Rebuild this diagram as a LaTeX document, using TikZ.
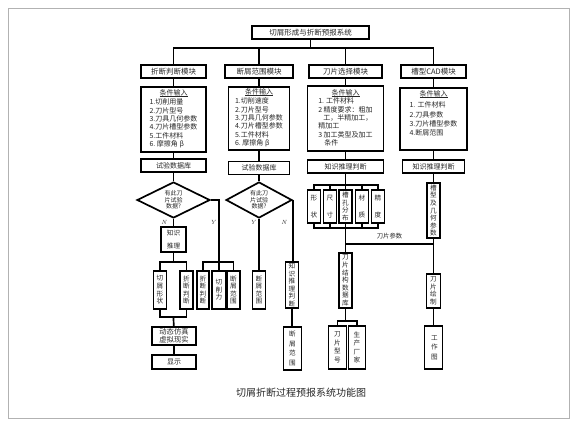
\documentclass[tikz,border=0pt]{standalone}
\usepackage{fontspec}
\newfontfamily\cjk{Noto Sans CJK SC}
\usetikzlibrary{shapes.geometric}

\newcommand{\condhead}{\multicolumn{1}{@{}c@{}}{\setbox0\hbox{条件输入}\rlap{\rule[-1.3pt]{\wd0}{0.6pt}}\box0}}

\begin{document}
\begin{tikzpicture}[x=1pt, y=-1pt,
    conn/.style={line width=1.7pt},
    box/.style={draw, line width=1.7pt, inner sep=0pt, text=black!85, font=\cjk\fontsize{7.5}{9}\selectfont},
    cond/.style={box, font=\cjk\fontsize{7}{8.3}\selectfont},
    vbox/.style={box, align=center, font=\cjk\fontsize{6.6}{7.6}\selectfont},
    dia/.style={box, shape=diamond, aspect=2, align=center, font=\cjk\fontsize{6}{6.6}\selectfont},
    yn/.style={text=black!85, font=\fontsize{6}{7}\selectfont\itshape}]

  \useasboundingbox (0,0) rectangle (576,424);
  \draw[gray!60, line width=0.6pt] (8,8) rectangle (569,418);

  % System and module boxes
  \node[box, minimum width=117, minimum height=13] (sys) at (310.5,32.5) {切屑形成与折断预报系统};
  \foreach \x/\w/\name/\txt in {173.5/65/m1/折断判断模块, 259/68/m2/断屑范围模块, 345.5/73/m3/刀片选择模块, 433.5/65/m4/槽型CAD模块}
    \node[box, minimum width=\w, minimum height=13] (\name) at (\x,71.5) {\txt};

  \coordinate (bus) at (310.5,48);
  \draw[conn] (sys) -- (bus);
  \draw[conn] (m1.north) |- (bus) -| (m4.north);
  \draw[conn] (m2.north) -- (m2.north |- bus);
  \draw[conn] (m3.north) -- (m3.north |- bus);

  % Condition inputs
  \node[cond, minimum width=65, minimum height=65] (c1) at (173.5,119.5) {\begin{tabular}{@{}l@{}}\condhead\\[0.5pt]1.切削用量\\2.刀片型号\\3.刀具几何参数\\4.刀片槽型参数\\5.工件材料\\6.\ 摩擦角 β\end{tabular}};
  \node[cond, minimum width=61, minimum height=63] (c2) at (259,118.5) {\begin{tabular}{@{}l@{}}\condhead\\[0.5pt]1.切削速度\\2.刀片型号\\3.刀具几何参数\\4.刀片槽型参数\\5.工件材料\\6.\ 摩擦角 β\end{tabular}};
  \node[cond, minimum width=76, minimum height=65, font=\cjk\fontsize{7}{7.9}\selectfont] (c3) at (345.5,118.5) {\begin{tabular}{@{}l@{}}\condhead\\[0.5pt]1. 工件材料\\2 精度要求：粗加\\\hspace{5pt}工，半精加工，\\精加工\\3 加工类型及加工\\\hspace{6pt}条件\end{tabular}};
  \node[cond, minimum width=67, minimum height=62, font=\cjk\fontsize{7}{9.3}\selectfont] (c4) at (433.5,119) {\begin{tabular}{@{}l@{}}\condhead\\[2pt]1. 工件材料\\2.刀具参数\\3.刀片槽型参数\\4.断屑范围\rule[-12pt]{0pt}{12pt}\end{tabular}};

  \node[box, minimum width=65, minimum height=13, font=\cjk\fontsize{7}{8}\selectfont] (d1) at (173.5,165.5) {试验数据库};
  \node[box, minimum width=61, minimum height=13, font=\cjk\fontsize{7}{8}\selectfont] (d2) at (259,168) {试验数据库};
  \node[box, minimum width=76, minimum height=13, font=\cjk\fontsize{7}{8}\selectfont] (k3) at (345.5,166.5) {知识推理判断};
  \node[box, minimum width=62, minimum height=13, font=\cjk\fontsize{7}{8}\selectfont] (k4) at (433.5,166.5) {知识推理判断};

  \draw[conn] (m1) -- (c1) -- (d1);
  \draw[conn] (m2) -- (c2) -- (d2);
  \draw[conn] (m3) -- (c3) -- (k3);
  \draw[conn] (m4) -- (c4) -- (k4);

  % Column 1: folding judgement
  \node[dia, minimum width=73, minimum height=36] (q1) at (173.5,200) {有此刀\\片试验\\数据?};
  \draw[conn] (d1) -- (q1);
  \node[yn] (n1) at (164,222) {N};
  \node[yn] (y1) at (213,222) {Y};

  \node[vbox, minimum width=25, minimum height=25] (kr1) at (173.5,239.5) {知识\\[5pt]推理};
  \node[vbox, minimum width=13, minimum height=38] (s1) at (160,290) {切\\屑\\形\\状};
  \node[vbox, minimum width=13, minimum height=38] (s2) at (186.5,290) {折\\断\\判\\断};
  \node[vbox, minimum width=12, minimum height=38] (t1) at (203,290) {折\\断\\判\\断};
  \node[vbox, minimum width=14, minimum height=38] (t2) at (219,290) {切\\削\\力};
  \node[vbox, minimum width=13, minimum height=38] (t3) at (233.5,290) {断\\屑\\范\\围};
  \node[box, minimum width=44, minimum height=18, align=center, font=\cjk\fontsize{7.3}{8.3}\selectfont] (sim) at (174,336) {动态仿真\\虚拟现实};
  \node[box, minimum width=44, minimum height=14, font=\cjk\fontsize{7}{8}\selectfont] (show) at (174,362) {显示};

  \coordinate (nbus1) at (173.5,262);
  \coordinate (ybus1) at (219,262);
  \coordinate (sbus1) at (173.5,317);
  \draw[conn] (q1) -- (kr1) -- (nbus1);
  \draw[conn] (s1.north) |- (nbus1) -| (s2.north);
  \draw[conn] (q1.east) -| (ybus1);
  \draw[conn] (t1.north) |- (ybus1) -| (t3.north);
  \draw[conn] (ybus1) -- (t2);
  \draw[conn] (s1.south) |- (sbus1) -| (s2.south);
  \draw[conn] (sbus1) -- (sim) -- (show);

  % Column 2: breaking range
  \node[dia, minimum width=66, minimum height=36] (q2) at (259,200) {有此刀\\片试验\\数据?};
  \draw[conn] (d2) -- (q2);
  \node[yn] (y2) at (253,222) {Y};
  \node[yn] (n2) at (284,222) {N};
  \node[vbox, minimum width=13, minimum height=38] (r1) at (259,290) {断\\屑\\范\\围};
  \node[vbox, minimum width=13, minimum height=46] (kj2) at (292,285) {知\\识\\推\\理\\判\\断};
  \node[vbox, minimum width=18, minimum height=43, font=\cjk\fontsize{6.6}{9.5}\selectfont] (r2) at (292.5,348.5) {断\\屑\\范\\围};
  \draw[conn] (q2) -- (r1);
  \draw[conn] (q2.east) -- (q2.east |- kj2.north);
  \draw[conn] (kj2.south) -- (kj2.south |- r2.north);

  % Column 3: insert selection
  \foreach \x/\name/\txt in {314/f1/形\\[9pt]状, 330/f2/尺\\[9pt]寸, 345.5/f3/槽\\孔\\分\\布, 362/f4/材\\[9pt]质, 378/f5/精\\[9pt]度}
    \node[vbox, minimum width=13, minimum height=33] (\name) at (\x,206.5) {\txt};
  \coordinate (tbus3) at (345.5,185);
  \coordinate (bbus3) at (345.5,228);
  \draw[conn] (k3) -- (tbus3);
  \draw[conn] (f1.north) |- (tbus3) -| (f5.north);
  \draw[conn] (f1.south) |- (bbus3) -| (f5.south);
  \foreach \n in {f2,f3,f4} {
    \draw[conn] (\n.north) -- (\n.north |- tbus3);
    \draw[conn] (\n.south) -- (\n.south |- bbus3);
  }

  \node[vbox, minimum width=13, minimum height=55] (db3) at (345.5,280.5) {刀\\片\\结\\构\\数\\据\\库};
  \node[vbox, minimum width=18, minimum height=43, font=\cjk\fontsize{6.6}{8.5}\selectfont] (p1) at (337.5,347.5) {刀\\片\\型\\号};
  \node[vbox, minimum width=17, minimum height=43, font=\cjk\fontsize{6.6}{8.5}\selectfont] (p2) at (357,347.5) {生\\产\\厂\\家};
  \coordinate (pbus3) at (345.5,321);
  \draw[conn] (bbus3) -- (db3) -- (pbus3);
  \draw[conn] (p1.north) |- (pbus3) -| (p2.north);

  % Column 4: groove CAD
  \node[vbox, minimum width=13, minimum height=55] (g4) at (433.5,210.5) {槽\\型\\及\\几\\何\\参\\数};
  \node[vbox, minimum width=14, minimum height=34] (dr4) at (433.5,291) {刀\\片\\绘\\制};
  \node[vbox, minimum width=18, minimum height=43, font=\cjk\fontsize{6.6}{9.5}\selectfont] (w4) at (433.5,347.5) {\hspace{2pt}工\\\hspace{2pt}作\\\hspace{2pt}图};
  \draw[conn] (k4) -- (g4) -- (dr4) -- (w4);

  % insert parameters passed across
  \coordinate (pj) at (345.5,244);
  \draw[conn] (pj) -- (pj -| g4.south) node[midway, above=1pt, text=black!85, font=\cjk\fontsize{6.3}{7}\selectfont] (plabel) {刀片参数};

  \node[text=black!85, font=\cjk\fontsize{10}{12}\selectfont] (cap) at (301,393) {切屑折断过程预报系统功能图};
\end{tikzpicture}
\end{document}
